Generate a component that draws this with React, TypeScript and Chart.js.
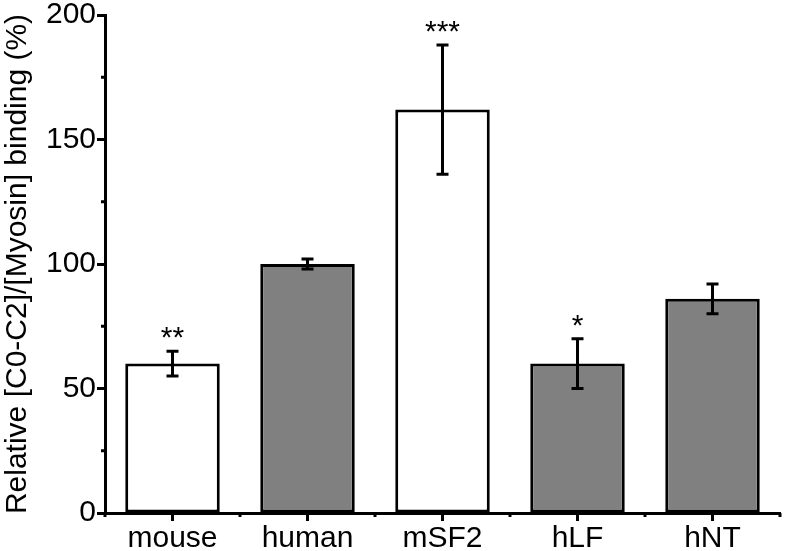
import React, { useEffect, useRef } from "react";
import { Chart, registerables } from "chart.js";

Chart.register(...registerables);

const categories = ["mouse", "human", "mSF2", "hLF", "hNT"];
const values = [60, 100, 162, 60, 86];
const errLow = [55, 98, 136, 50, 80];
const errHigh = [65, 102, 188, 70, 92];
const barColors = ["#ffffff", "#808080", "#ffffff", "#808080", "#808080"];
const stars = ["**", "", "***", "*", ""];
const yTicks = [0, 50, 100, 150, 200];
const yMinorTicks = [25, 75, 125, 175];
const yTitle = "Relative [C0-C2]/[Myosin] binding (%)";
const FONT = "'Liberation Sans', Arial, sans-serif";

const extrasPlugin = {
  id: "extras",
  afterDatasetsDraw(chart: any) {
    const ctx = chart.ctx;
    const x = chart.scales.x;
    const y = chart.scales.y;
    ctx.save();
    ctx.strokeStyle = "#000";
    ctx.fillStyle = "#000";
    ctx.lineWidth = 3;
    ctx.lineCap = "butt";
    for (let i = 0; i < categories.length; i++) {
      const cx = x.getPixelForValue(i);
      const yl = y.getPixelForValue(errLow[i]);
      const yh = y.getPixelForValue(errHigh[i]);
      ctx.beginPath();
      ctx.moveTo(cx, yl);
      ctx.lineTo(cx, yh);
      ctx.moveTo(cx - 6, yl);
      ctx.lineTo(cx + 6, yl);
      ctx.moveTo(cx - 6, yh);
      ctx.lineTo(cx + 6, yh);
      ctx.stroke();
      if (stars[i]) {
        ctx.font = "30px " + FONT;
        ctx.textAlign = "center";
        ctx.textBaseline = "alphabetic";
        ctx.fillText(stars[i], cx, yh - 4);
      }
    }
    for (const v of yMinorTicks) {
      const py = y.getPixelForValue(v);
      ctx.beginPath();
      ctx.moveTo(x.left - 4, py);
      ctx.lineTo(x.left, py);
      ctx.stroke();
    }
    for (let i = 0; i <= categories.length; i++) {
      const px = x.getPixelForValue(i - 0.5);
      ctx.beginPath();
      ctx.moveTo(px, y.bottom);
      ctx.lineTo(px, y.bottom + 4);
      ctx.stroke();
    }
    ctx.restore();
  },
};

export default function App() {
  const ref = useRef<HTMLCanvasElement>(null);
  useEffect(() => {
    const chart = new Chart(ref.current!, {
      type: "bar",
      data: {
        labels: categories,
        datasets: [
          {
            data: values,
            backgroundColor: barColors,
            borderColor: "#000",
            borderWidth: 3,
            borderSkipped: false,
            categoryPercentage: 1,
            barPercentage: 0.7,
          },
        ],
      },
      options: {
        animation: false,
        responsive: false,
        devicePixelRatio: 1,
        layout: { padding: { top: 15, right: 5, left: 0, bottom: 0 } },
        plugins: { legend: { display: false }, tooltip: { enabled: false } },
        scales: {
          x: {
            offset: true,
            grid: {
              display: true,
              drawOnChartArea: false,
              offset: false,
              tickLength: 8,
              tickWidth: 3,
              tickColor: "#000",
            },
            border: { display: true, color: "#000", width: 3 },
            ticks: {
              color: "#000",
              font: { family: FONT, size: 30 },
              padding: 0,
              maxRotation: 0,
            },
            afterFit(scale: any) {
              scale.height = 38;
              scale.paddingLeft = 0;
              scale.paddingRight = 0;
            },
          },
          y: {
            min: 0,
            max: 200,
            afterBuildTicks(scale: any) {
              scale.ticks = yTicks.map((v) => ({ value: v }));
            },
            grid: {
              display: true,
              drawOnChartArea: false,
              tickLength: 8,
              tickWidth: 3,
              tickColor: "#000",
            },
            border: { display: true, color: "#000", width: 3 },
            ticks: {
              color: "#000",
              font: { family: FONT, size: 30 },
              padding: 1,
            },
            title: {
              display: true,
              text: yTitle,
              color: "#000",
              font: { family: FONT, size: 30 },
              padding: { top: 0, bottom: 0 },
            },
            afterFit(scale: any) {
              scale.width = 105;
              scale.paddingTop = 0;
              scale.paddingBottom = 0;
            },
          },
        },
      },
      plugins: [extrasPlugin],
    });
    return () => chart.destroy();
  }, []);
  return (
    <div style={{ position: "fixed", left: 0, top: 0, width: 785, height: 551, background: "#fff" }}>
      <canvas ref={ref} width={785} height={551} style={{ display: "block" }} />
    </div>
  );
}
